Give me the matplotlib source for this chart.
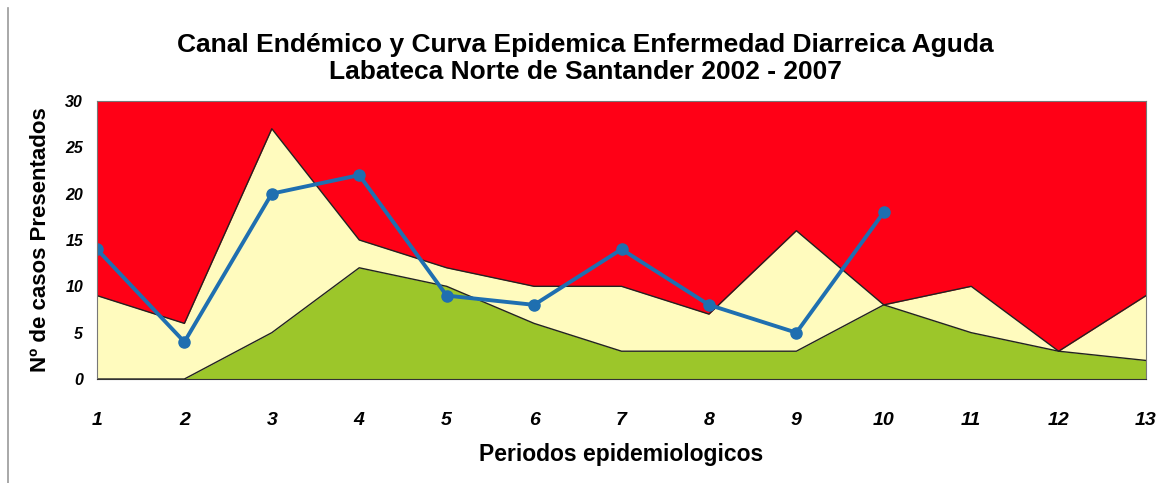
import matplotlib.pyplot as plt
from matplotlib.lines import Line2D

periodos = [1, 2, 3, 4, 5, 6, 7, 8, 9, 10, 11, 12, 13]
limite_seguridad = [0, 0, 5, 12, 10, 6, 3, 3, 3, 8, 5, 3, 2]
limite_alerta = [9, 6, 27, 15, 12, 10, 10, 7, 16, 8, 10, 3, 9]
limite_epidemia = [30] * 13
casos_periodos = [1, 2, 3, 4, 5, 6, 7, 8, 9, 10]
casos = [14, 4, 20, 22, 9, 8, 14, 8, 5, 18]

plt.rcParams['font.family'] = ['Liberation Sans', 'DejaVu Sans']

fig = plt.figure(figsize=(11.71, 4.83), dpi=100)
ax = fig.add_axes([0.0828, 0.2153, 0.8959, 0.5757])

ax.fill_between(periodos, 0, limite_epidemia, color='#ff0016', lw=0)
ax.fill_between(periodos, 0, limite_alerta, color='#fffbbe', lw=0)
ax.fill_between(periodos, 0, limite_seguridad, color='#9cc62a', lw=0)
ax.plot(periodos, limite_alerta, color='#222222', lw=1)
ax.plot(periodos, limite_seguridad, color='#222222', lw=1)
ax.plot(casos_periodos, casos, color='#1f6fb0', lw=2.8, marker='o', markersize=8)

ax.set_xlim(1, 13)
ax.set_ylim(0, 30)
ax.set_xticks(periodos)
ax.set_yticks(range(0, 31, 5))
ax.tick_params(length=0)
ax.tick_params(axis='x', pad=24)
ax.tick_params(axis='y', pad=10)
for lbl in ax.get_xticklabels():
    lbl.set_fontsize(14)
    lbl.set_fontweight('bold')
    lbl.set_fontstyle('italic')
for lbl in ax.get_yticklabels():
    lbl.set_fontsize(11.5)
    lbl.set_fontweight('bold')
    lbl.set_fontstyle('italic')
for s in ax.spines.values():
    s.set_color('#777777')
    s.set_linewidth(0.8)
ax.spines['bottom'].set_color('#333333')

ax.set_xlabel('Periodos epidemiologicos', fontsize=16.5, fontweight='bold', labelpad=10)
ax.set_ylabel('Nº de casos Presentados', fontsize=16, fontweight='bold', labelpad=10)
fig.text(0.5, 0.907, 'Canal Endémico y Curva Epidemica Enfermedad Diarreica Aguda',
         ha='center', va='center', fontsize=19, fontweight='bold')
fig.text(0.5, 0.85, 'Labateca Norte de Santander 2002 - 2007',
         ha='center', va='center', fontsize=19, fontweight='bold')

fig.add_artist(Line2D([0.007, 0.007], [0.0, 0.983], color='#999999', lw=1.2,
                      transform=fig.transFigure))

fig.savefig('out.png', dpi=100)
